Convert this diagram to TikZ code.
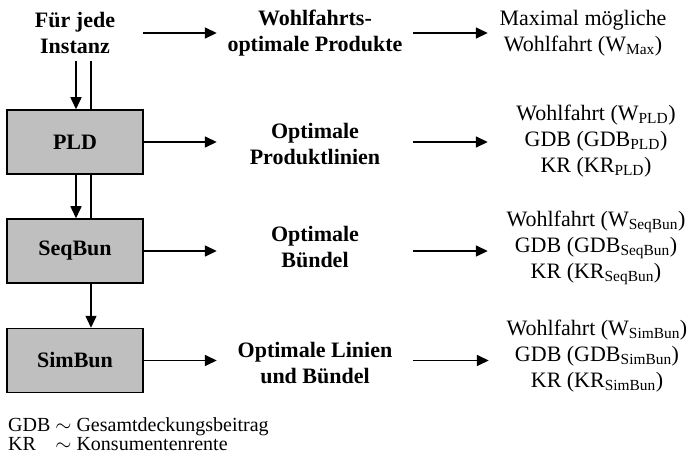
\documentclass[tikz,border=0pt]{standalone}
\usepackage{fontspec}
\setmainfont{Liberation Serif}
\usetikzlibrary{arrows.meta}
\definecolor{boxgray}{gray}{0.75}

\begin{document}
\begin{tikzpicture}[x=1pt, y=-1pt,
        stage/.style={draw, line width=1.5pt, fill=boxgray, minimum width=136pt,
                    minimum height=64pt, inner sep=0pt,
                    font=\fontsize{22}{26}\selectfont\bfseries},
        mid/.style={align=center, minimum width=196pt, inner sep=0pt,
                    font=\fontsize{22}{26}\selectfont\bfseries},
        res/.style={align=center, minimum width=216pt, inner sep=0pt,
                    font=\fontsize{22}{26}\selectfont},
        arr/.style={-{Triangle[length=12pt, width=11pt]}, line width=1.5pt},
        link/.style={line width=1.5pt},
    ]
        \useasboundingbox (0,0) rectangle (688,457);
        \coordinate (xl) at (76,0);
        \coordinate (xr) at (91,0);

        % Welfare optimum
        \node[mid, minimum width=136pt, inner ysep=7pt] (inst) at (75,33) {Für jede\\Instanz};
        \node[mid] (wopt) at (315,33) {Wohlfahrts-\\optimale Produkte};
        \node[res, minimum width=190pt] (wmax) at (583,33) {Maximal mögliche\\Wohlfahrt (W\textsubscript{Max})};

        \draw[arr] (inst) -- (wopt);
        \draw[arr] (wopt) -- (wmax);

        % PLD
        \node[stage] (pld) at (75,142) {PLD};
        \node[mid] (pline) at (315,144) {Optimale\\Produktlinien};
        \node[res] (pres) at (596,141) {Wohlfahrt (W\textsubscript{PLD})\\GDB (GDB\textsubscript{PLD})\\KR (KR\textsubscript{PLD})};

        \draw[arr] (pld) -- (pld -| pline.west);
        \draw[arr] (pline.east |- pld) -- (pres.west |- pld);

        % SeqBun
        \node[stage] (seq) at (75,251) {SeqBun};
        \node[mid] (sbund) at (315,247) {Optimale\\Bündel};
        \node[res] (sres) at (596,248) {Wohlfahrt (W\textsubscript{SeqBun})\\GDB (GDB\textsubscript{SeqBun})\\KR (KR\textsubscript{SeqBun})};

        \draw[arr] (seq) -- (seq -| sbund.west);
        \draw[arr] (sbund.east |- seq) -- (sres.west |- seq);

        % SimBun
        \node[stage] (sim) at (75,360.5) {SimBun};
        \node[mid] (lbund) at (315,363) {Optimale Linien\\und Bündel};
        \node[res] (lres) at (597,356) {Wohlfahrt (W\textsubscript{SimBun})\\GDB (GDB\textsubscript{SimBun})\\KR (KR\textsubscript{SimBun})};

        \draw[arr] (sim) -- (sim -| lbund.west);
        \draw[arr] (lbund.east |- sim) -- (lres.west |- sim);

        % flow between the stages
        \draw[arr] (inst.south -| xl) -- (pld.north -| xl);
        \draw[link] (inst.south -| xr) -- (pld.north -| xr);
        \draw[arr] (pld.south -| xl) -- (seq.north -| xl);
        \draw[link] (pld.south -| xr) -- (seq.north -| xr);
        \draw[arr] (seq.south -| xr) -- (sim.north -| xr);

        % legend
        \node[anchor=west, inner sep=0pt, font=\fontsize{20}{22}\selectfont] (legend) at (8,437)
            {\renewcommand{\arraystretch}{0.9}%
             \begin{tabular}{@{}l@{ }l@{}}GDB & $\sim$ Gesamtdeckungsbeitrag\\KR & $\sim$ Konsumentenrente\end{tabular}};
    \end{tikzpicture}
\end{document}
